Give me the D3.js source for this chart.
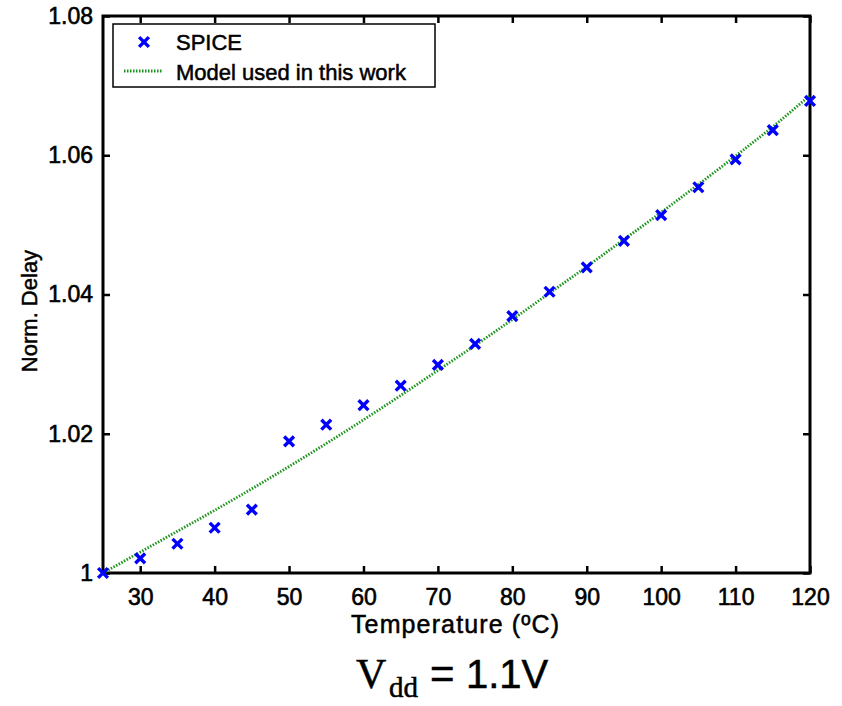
<!DOCTYPE html>
<html>
<head>
<meta charset="utf-8">
<script src="https://cdn.jsdelivr.net/npm/d3@7"></script>
<style>
  body { margin: 0; background: #fff; }
  text { font-family: Arial, "Liberation Sans", Helvetica, sans-serif; fill: #000; stroke: #000; stroke-width: 0.5px; }
</style>
</head>
<body>
<svg id="chart" width="842" height="706"></svg>
<script>
// temperatures (ºC)
const temps = [25, 30, 35, 40, 45, 50, 55, 60, 65, 70, 75, 80, 85, 90, 95, 100, 105, 110, 115, 120];
// SPICE normalised delay
const spiceDelay = [1.0000, 1.0021, 1.0042, 1.0065, 1.0091, 1.0189, 1.0213, 1.0241, 1.0269, 1.0299,
                    1.0329, 1.0369, 1.0404, 1.0439, 1.0477, 1.0514, 1.0554, 1.0594, 1.0636, 1.0678];
// model curve
const modelDelay = [1.0000, 1.0030, 1.0060, 1.0090, 1.0121, 1.0153, 1.0186, 1.0220, 1.0255, 1.0291,
                    1.0327, 1.0364, 1.0402, 1.0440, 1.0479, 1.0518, 1.0558, 1.0599, 1.0641, 1.0686];
const xTicks = [30, 40, 50, 60, 70, 80, 90, 100, 110, 120];
const yTicks = [1, 1.02, 1.04, 1.06, 1.08];
const yTickLabels = ["1", "1.02", "1.04", "1.06", "1.08"];

const margin = { left: 103, right: 32, top: 16, bottom: 133 };
const width = 842, height = 706;
const innerW = width - margin.left - margin.right;
const innerH = height - margin.top - margin.bottom;

const svg = d3.select("#chart");
const g = svg.append("g").attr("transform", `translate(${margin.left},${margin.top})`);

const x = d3.scaleLinear().domain([25, 120]).range([0, innerW]);
const y = d3.scaleLinear().domain([1, 1.08]).range([innerH, 0]);

const tickLen = 7;

// ticks on all four sides, pointing inward
const bottomAxis = g.append("g").attr("transform", `translate(0,${innerH})`)
    .call(d3.axisBottom(x).tickValues(xTicks).tickSize(-tickLen).tickPadding(16).tickFormat(d3.format("d")));
const topAxis = g.append("g")
    .call(d3.axisTop(x).tickValues(xTicks).tickSize(-tickLen).tickFormat(""));
const leftAxis = g.append("g")
    .call(d3.axisLeft(y).tickValues(yTicks).tickSize(-tickLen).tickPadding(10)
        .tickFormat((d, i) => yTickLabels[i]));
const rightAxis = g.append("g").attr("transform", `translate(${innerW},0)`)
    .call(d3.axisRight(y).tickValues(yTicks).tickSize(-tickLen).tickFormat(""));

[bottomAxis, topAxis, leftAxis, rightAxis].forEach(a => {
    a.select(".domain").remove();
    a.selectAll(".tick line").attr("stroke", "#000").attr("stroke-width", 2.5);
    a.selectAll(".tick text").style("font-size", "23px").attr("fill", "#000")
        .style("stroke", "#000").style("stroke-width", "0.6px");
});
bottomAxis.selectAll(".tick text").attr("dy", "0.71em");

// frame
g.append("rect")
    .attr("width", innerW).attr("height", innerH)
    .attr("fill", "none").attr("stroke", "#000").attr("stroke-width", 3);

// model line
const line = d3.line()
    .x((d, i) => x(temps[i]))
    .y(d => y(d))
    .curve(d3.curveMonotoneX);

g.append("path")
    .datum(modelDelay)
    .attr("d", line)
    .attr("fill", "none")
    .attr("stroke", "#1a941a")
    .attr("stroke-width", 2.8)
    .attr("stroke-dasharray", "1.5,1.5");

// SPICE markers
const cross = d3.symbol().type(d3.symbolX).size(64);
g.append("g").selectAll("path")
    .data(spiceDelay)
    .join("path")
    .attr("transform", (d, i) => `translate(${x(temps[i])},${y(d)})`)
    .attr("d", cross)
    .attr("fill", "none")
    .attr("stroke", "#0000ff")
    .attr("stroke-width", 3.4);

// legend
const legend = g.append("g").attr("transform", "translate(10,8)");
legend.append("rect")
    .attr("width", 322).attr("height", 63)
    .attr("fill", "#fff").attr("stroke", "#000").attr("stroke-width", 1.5);
legend.append("path")
    .attr("transform", "translate(31,18)")
    .attr("d", cross)
    .attr("fill", "none").attr("stroke", "#0000ff").attr("stroke-width", 3.4);
legend.append("line")
    .attr("x1", 11).attr("x2", 49).attr("y1", 47).attr("y2", 47)
    .attr("stroke", "#1a941a").attr("stroke-width", 2.8).attr("stroke-dasharray", "1.5,1.5");
legend.append("text").attr("x", 63).attr("y", 26).style("font-size", "22px").text("SPICE");
legend.append("text").attr("x", 63).attr("y", 56).style("font-size", "22px").text("Model used in this work");

// axis labels
svg.append("text")
    .attr("x", 455).attr("y", 633)
    .attr("text-anchor", "middle").style("font-size", "25px")
    .attr("textLength", 208)
    .text("Temperature (ºC)");

svg.append("text")
    .attr("transform", "translate(37,311) rotate(-90)")
    .attr("text-anchor", "middle").style("font-size", "22px")
    .text("Norm. Delay");

// bottom caption
const serif = "'Liberation Serif', 'Times New Roman', serif";
svg.append("text").attr("x", 356).attr("y", 688)
    .style("font-family", serif).style("font-size", "42px").text("V");
svg.append("text").attr("x", 389).attr("y", 697)
    .style("font-family", serif).style("font-size", "29px").text("dd");
svg.append("text").attr("x", 430).attr("y", 688)
    .style("font-size", "42px").text("=");
svg.append("text").attr("x", 466).attr("y", 688)
    .style("font-size", "40px").text("1.1V");
</script>
</body>
</html>
